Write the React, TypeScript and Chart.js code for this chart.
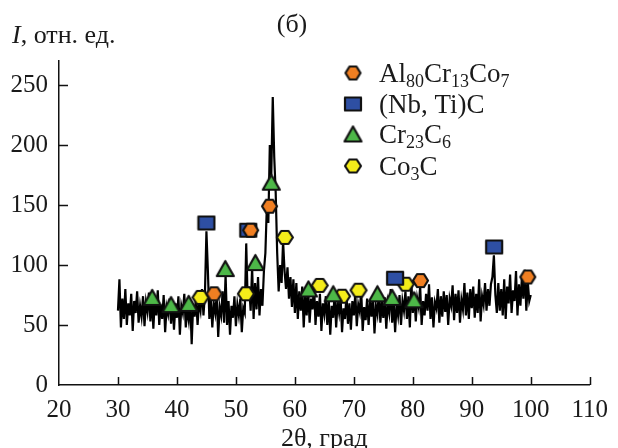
import { useEffect, useRef } from "react";
import { Chart, registerables } from "chart.js";

Chart.register(...registerables);

// XRD pattern: intensity sampled every 0.25° of 2θ from 30° to 100°
const startAngle = 30;
const angleStep = 0.25;
const intensity = [
  62, 88, 48, 72, 55, 80, 50, 68, 58, 76, 45, 70, 60, 78, 52, 66, 57, 74, 49, 69,
  61, 77, 53, 73, 47, 71, 58, 79, 50, 67, 55, 75, 44, 65, 59, 72, 51, 70, 46, 68,
  56, 74, 42, 66, 60, 76, 48, 63, 54, 71, 34, 67, 57, 73, 50, 69, 62, 80, 58, 76,
  128, 95, 55, 72, 48, 68, 60, 75, 40, 65, 58, 78, 52, 92, 50, 70, 42, 66, 56, 74,
  49, 67, 58, 72, 44, 64, 60, 118, 70, 82, 62, 98, 55, 85, 63, 90, 58, 80, 66, 95,
  110, 150, 135, 200, 175, 240, 190, 160, 110, 78, 100, 85, 120, 95, 80, 98, 72, 90, 65, 88,
  60, 85, 55, 78, 62, 82, 48, 75, 58, 80, 52, 72, 63, 84, 50, 70, 57, 76, 45, 68,
  59, 74, 50, 71, 42, 66, 56, 77, 48, 69, 60, 73, 44, 64, 55, 75, 51, 68, 46, 70,
  58, 76, 49, 67, 61, 79, 45, 65, 54, 72, 50, 70, 57, 74, 43, 66, 59, 78, 52, 69,
  56, 73, 47, 68, 60, 80, 52, 71, 44, 67, 58, 75, 50, 70, 62, 78, 55, 74, 48, 86,
  60, 77, 53, 72, 65, 82, 50, 70, 58, 76, 62, 84, 55, 73, 48, 69, 64, 80, 52, 74,
  57, 78, 61, 75, 50, 72, 66, 83, 54, 76, 60, 79, 52, 71, 63, 85, 58, 77, 55, 80,
  64, 82, 56, 76, 60, 88, 53, 74, 67, 85, 62, 80, 66, 84, 90, 108, 75, 60, 85, 62,
  80, 58, 88, 55, 82, 68, 92, 60, 79, 70, 95, 58, 84, 66, 90, 72, 96, 62, 86, 70,
  75,
];

// Phase markers
const alAngles = [46.3, 52.5, 55.7, 81.3, 99.5];
const alValues = [76, 129, 149, 87, 90];
const nbAngles = [45.0, 52.1, 77.0, 93.8];
const nbValues = [135, 129, 89, 115];
const crAngles = [35.8, 39.0, 42.0, 48.2, 53.3, 56.0, 62.3, 66.5, 74.0, 76.5, 80.2];
const crValues = [73, 67, 68, 97, 102, 169, 80, 76, 76, 73, 71];
const coAngles = [44.0, 51.7, 58.3, 64.2, 68.0, 70.8, 78.8];
const coValues = [73, 76, 123, 83, 74, 79, 84];

const xTicks = [20, 30, 40, 50, 60, 70, 80, 90, 100, 110];
const yTicks = [0, 50, 100, 150, 200, 250];

const FONT = "'Liberation Serif', 'Times New Roman', serif";

function makeMarker(kind: string, fill: string, w: number, h: number) {
  const c = document.createElement("canvas");
  c.width = w + 4;
  c.height = h + 4;
  const g = c.getContext("2d")!;
  g.translate(2, 2);
  g.beginPath();
  if (kind === "hex") {
    g.moveTo(0, h / 2);
    g.lineTo(w * 0.27, 0);
    g.lineTo(w * 0.73, 0);
    g.lineTo(w, h / 2);
    g.lineTo(w * 0.73, h);
    g.lineTo(w * 0.27, h);
    g.closePath();
  } else if (kind === "rect") {
    g.rect(0, 0, w, h);
  } else {
    g.moveTo(w / 2, 0);
    g.lineTo(w, h);
    g.lineTo(0, h);
    g.closePath();
  }
  g.fillStyle = fill;
  g.fill();
  g.lineWidth = 2.2;
  g.lineJoin = "round";
  g.strokeStyle = "#111";
  g.stroke();
  return c;
}

export default function App() {
  const ref = useRef<HTMLCanvasElement | null>(null);

  useEffect(() => {
    const canvas = ref.current;
    if (!canvas) return;
    const orange = makeMarker("hex", "#F07F22", 15, 13);
    const blue = makeMarker("rect", "#2E4FA3", 16, 13);
    const green = makeMarker("tri", "#4DB848", 17, 15);
    const yellow = makeMarker("hex", "#F4EC1A", 16, 13);

    const lineData = intensity.map((v, i) => ({ x: startAngle + i * angleStep, y: v }));
    const pts = (xs: number[], ys: number[]) => xs.map((x, i) => ({ x, y: ys[i] }));

    const legendItems = [
      { img: orange, parts: [["Al", 0], ["80", 1], ["Cr", 0], ["13", 1], ["Co", 0], ["7", 1]] },
      { img: blue, parts: [["(Nb, Ti)C", 0]] },
      { img: green, parts: [["Cr", 0], ["23", 1], ["C", 0], ["6", 1]] },
      { img: yellow, parts: [["Co", 0], ["3", 1], ["C", 0]] },
    ];

    const decor = {
      id: "decor",
      afterDraw(chart: any) {
        const ctx = chart.ctx;
        const xs = chart.scales.x;
        const ys = chart.scales.y;
        const area = chart.chartArea;
        ctx.save();
        ctx.strokeStyle = "#111";
        ctx.lineWidth = 1.5;
        ctx.beginPath();
        xTicks.forEach((t) => {
          if (t === xTicks[0]) return;
          const px = Math.round(xs.getPixelForValue(t)) + 0.5;
          ctx.moveTo(px, area.bottom);
          ctx.lineTo(px, area.bottom - 8);
        });
        yTicks.forEach((t) => {
          if (t === 0) return;
          const py = Math.round(ys.getPixelForValue(t)) + 0.5;
          ctx.moveTo(area.left, py);
          ctx.lineTo(area.left + 9, py);
        });
        ctx.stroke();

        ctx.fillStyle = "#1a1a1a";
        ctx.textBaseline = "alphabetic";
        // y title
        ctx.textAlign = "left";
        ctx.font = `italic 26px ${FONT}`;
        ctx.fillText("I", 12, 43);
        const iw = ctx.measureText("I").width;
        ctx.font = `26px ${FONT}`;
        ctx.fillText(", отн. ед.", 12 + iw, 43);
        // panel label
        ctx.textAlign = "center";
        ctx.fillText("(б)", 292, 32);
        // x title
        ctx.fillText("2θ, град", (area.left + area.right) / 2, 446);

        // legend
        const bases = [82, 113, 143, 175];
        legendItems.forEach((item, i) => {
          const b = bases[i];
          ctx.drawImage(item.img, 353 - item.img.width / 2, b - 9 - item.img.height / 2);
          let x = 379;
          ctx.textAlign = "left";
          item.parts.forEach(([txt, sub]) => {
            ctx.font = sub ? `18px ${FONT}` : `27px ${FONT}`;
            ctx.fillText(txt as string, x, sub ? b + 5 : b);
            x += ctx.measureText(txt as string).width;
          });
        });
        ctx.restore();
      },
    };

    const chart = new Chart(canvas, {
      type: "line",
      data: {
        datasets: [
          {
            label: "pattern",
            data: lineData,
            borderColor: "#000",
            borderWidth: 2.2,
            pointRadius: 0,
            tension: 0,
            order: 10,
          },
          { label: "Al80Cr13Co7", data: pts(alAngles, alValues), showLine: false, pointStyle: orange, order: 1 },
          { label: "(Nb, Ti)C", data: pts(nbAngles, nbValues), showLine: false, pointStyle: blue, order: 2 },
          { label: "Cr23C6", data: pts(crAngles, crValues), showLine: false, pointStyle: green, order: 3 },
          { label: "Co3C", data: pts(coAngles, coValues), showLine: false, pointStyle: yellow, order: 4 },
        ] as any,
      },
      options: {
        animation: false,
        responsive: false,
        maintainAspectRatio: false,
        layout: { padding: { top: 61, right: 19, left: 0, bottom: 0 } },
        plugins: { legend: { display: false }, tooltip: { enabled: false } },
        scales: {
          x: {
            type: "linear",
            min: 20,
            max: 110,
            afterBuildTicks: (s: any) => {
              s.ticks = xTicks.map((v) => ({ value: v }));
            },
            afterFit: (s: any) => {
              s.height = 63;
            },
            grid: { display: false, drawTicks: false },
            border: { display: true, color: "#111", width: 1.5 },
            ticks: {
              autoSkip: false,
              maxRotation: 0,
              padding: 10,
              color: "#1a1a1a",
              font: { family: FONT, size: 25 },
            },
          },
          y: {
            min: 0,
            max: 270,
            afterBuildTicks: (s: any) => {
              s.ticks = yTicks.map((v) => ({ value: v }));
            },
            afterFit: (s: any) => {
              s.width = 59;
            },
            grid: { display: false, drawTicks: false },
            border: { display: true, color: "#111", width: 1.5 },
            ticks: {
              padding: 11,
              color: "#1a1a1a",
              font: { family: FONT, size: 25 },
            },
          },
        },
      } as any,
      plugins: [decor],
    });
    return () => chart.destroy();
  }, []);

  return (
    <div style={{ position: "fixed", left: 0, top: 0, width: 618, height: 448, background: "#fff" }}>
      <canvas ref={ref} width={618} height={448} style={{ width: 618, height: 448 }} />
    </div>
  );
}
